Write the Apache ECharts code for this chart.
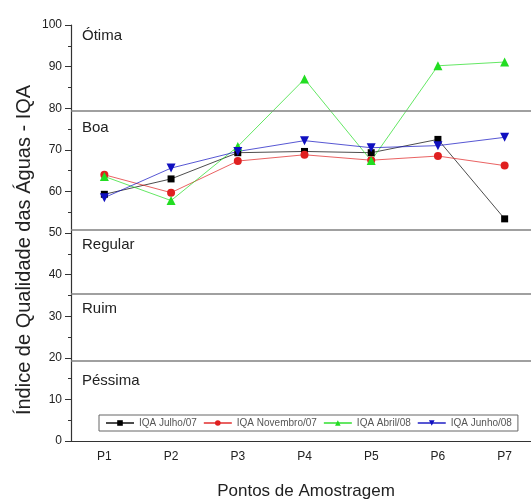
<!DOCTYPE html>
<html><head><meta charset="utf-8">
<script src="https://cdn.jsdelivr.net/npm/echarts@6/dist/echarts.min.js"></script>
<style>html,body{margin:0;padding:0;background:#fff}#c{width:531px;height:502px}</style>
</head><body><div id="c"></div>
<script>
const categories = ['P1','P2','P3','P4','P5','P6','P7'];
const julho07 = [59.3, 63.0, 69.3, 69.6, 69.3, 72.5, 53.4];
const novembro07 = [64.0, 59.7, 67.3, 68.8, 67.5, 68.5, 66.2];
const abril08 = [63.6, 57.8, 70.8, 87.0, 67.4, 90.2, 91.1];
const junho08 = [58.5, 65.6, 69.6, 72.2, 70.5, 71.0, 73.0];
const classLimits = [79.5, 50.8, 35.5, 19.3];
const classNames = ['Ótima','Boa','Regular','Ruim','Péssima'];
const yTicks = [0,10,20,30,40,50,60,70,80,90,100];
const yTitle = 'Índice de Qualidade das Águas - IQA';
const xTitle = 'Pontos de Amostragem';

const chart = echarts.init(document.getElementById('c'));
const mk = (name, data, color, symbol, rotate) => ({
  name, type:'line', data, xAxisIndex:0,
  symbol, symbolSize: symbol==='rect'?7:(symbol==='circle'?8:9), symbolRotate: rotate||0,
  itemStyle:{color}, lineStyle:{color, width:1, opacity:0.7},
  z: 3
});
const series = [
  mk('IQA Julho/07', julho07, '#000000', 'rect'),
  mk('IQA Novembro/07', novembro07, '#e02020', 'circle'),
  mk('IQA Abril/08', abril08, '#22dd22', 'triangle'),
  mk('IQA Junho/08', junho08, '#1010c0', 'triangle', 180)
];
series[0].markLine = {
  silent:true, symbol:'none', label:{show:false},
  lineStyle:{color:'#808080', width:1.6, type:'solid'},
  data: classLimits.map(v=>({yAxis:v}))
};
const F = 'Liberation Sans, Arial, sans-serif';
chart.setOption({
  animation:false,
  grid:{left:71, top:25, bottom:61, right:-7, containLabel:false, outerBoundsMode:'none'},
  xAxis:[{
    type:'category', data:categories, boundaryGap:true,
    axisLine:{lineStyle:{color:'#333', width:1.2}},
    axisTick:{alignWithLabel:true, length:6, lineStyle:{color:'#333'}},
    axisLabel:{color:'#222', fontSize:12, fontFamily:F, margin:10}
  },{
    type:'category', data:categories, boundaryGap:true, position:'bottom',
    axisLine:{show:false}, axisLabel:{show:false},
    axisTick:{length:3, lineStyle:{color:'#333'}}
  }],
  yAxis:{
    type:'value', min:yTicks[0], max:yTicks[yTicks.length-1], interval:10,
    axisLine:{show:true, lineStyle:{color:'#333', width:1.2}},
    axisTick:{show:true, length:6, lineStyle:{color:'#333'}},
    minorTick:{show:true, splitNumber:2, length:3, lineStyle:{color:'#333'}},
    splitLine:{show:false},
    axisLabel:{color:'#222', fontSize:12, fontFamily:F, margin:9}
  },
  legend:{
    data:series.map(s=>s.name), left:99, top:415, width:420,
    itemGap:6, itemWidth:28, itemHeight:7,
    padding:[3,6,3,6],
    borderColor:'#666', borderWidth:1,
    textStyle:{color:'#555', fontSize:10, fontFamily:F}
  },
  graphic: [
    {type:'text', x:24, y:250, rotation:Math.PI/2, style:{text:yTitle, fill:'#222', font:'20px '+F, align:'center', verticalAlign:'middle'}},
    {type:'text', x:306, y:491, style:{text:xTitle, fill:'#222', font:'17px '+F, align:'center', verticalAlign:'middle'}},
    {type:'text', left:82, top:28, style:{text:classNames[0], fill:'#222', font:'15px '+F}},
    {type:'text', left:82, top:120, style:{text:classNames[1], fill:'#222', font:'15px '+F}},
    {type:'text', left:82, top:237, style:{text:classNames[2], fill:'#222', font:'15px '+F}},
    {type:'text', left:82, top:301, style:{text:classNames[3], fill:'#222', font:'15px '+F}},
    {type:'text', left:82, top:373, style:{text:classNames[4], fill:'#222', font:'15px '+F}}
  ],
  series
});
</script></body></html>
